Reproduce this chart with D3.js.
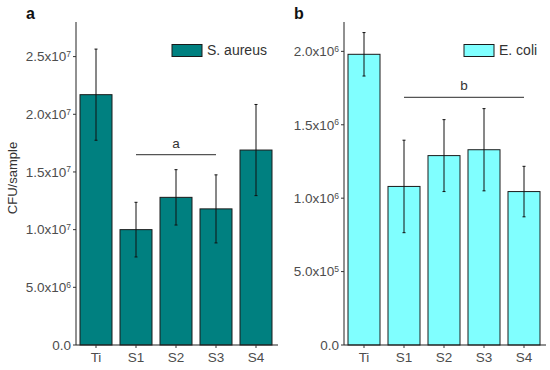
<!DOCTYPE html>
<html>
<head>
<meta charset="utf-8">
<script src="https://cdn.jsdelivr.net/npm/d3@7"></script>
<style>
  body { margin: 0; background: #fff; }
  svg { display: block; font-family: Arial, "Liberation Sans", sans-serif; }
</style>
</head>
<body>
<div id="chart"></div>
<script>
// groups on the x axis
var groups = ["Ti", "S1", "S2", "S3", "S4"];

// panel a: S. aureus
var aureusMean = [2.17e7, 1.0e7, 1.28e7, 1.18e7, 1.69e7];
var aureusSd = [0.395e7, 0.237e7, 0.24e7, 0.295e7, 0.395e7];
var aureusTicks = [0, 5e6, 1e7, 1.5e7, 2e7, 2.5e7];

// panel b: E. coli
var coliMean = [1.98e6, 1.08e6, 1.29e6, 1.33e6, 1.045e6];
var coliSd = [0.148e6, 0.315e6, 0.245e6, 0.28e6, 0.172e6];
var coliTicks = [0, 5e5, 1e6, 1.5e6, 2e6];

// significance brackets: from group, to group, height, letter
var aureusSig = ["S1", "S3", 1.65e7, "a"];
var coliSig = ["S1", "S4", 1.687e6, "b"];

var svg = d3.select("#chart")
    .append("svg")
    .attr("width", 550)
    .attr("height", 370);

function fmt(v) {
    if (v === 0) return {m: "0.0", e: null};
    var e = Math.floor(Math.log10(v) + 1e-9);
    return {m: (v / Math.pow(10, e)).toFixed(1) + "x10", e: e};
}

function drawPanel(opt) {
    var x = d3.scaleBand()
        .domain(groups)
        .range(opt.xRange)
        .paddingInner(0.2)
        .paddingOuter(0.1);
    var y = d3.scaleLinear()
        .domain([0, opt.yMax])
        .range([345, 22]);

    var g = svg.append("g");

    // bars
    g.selectAll(".bar")
        .data(opt.mean)
        .enter()
        .append("rect")
        .attr("x", function(d, i) { return x(groups[i]); })
        .attr("y", function(d) { return y(d); })
        .attr("width", x.bandwidth())
        .attr("height", function(d) { return y(0) - y(d); })
        .attr("fill", opt.color)
        .attr("stroke", "#1a1a1a")
        .attr("stroke-width", 1);

    // error bars
    var eb = g.selectAll(".err")
        .data(opt.mean)
        .enter()
        .append("g")
        .attr("stroke", "#111")
        .attr("stroke-width", 1);
    eb.append("line")
        .attr("x1", function(d, i) { return x(groups[i]) + x.bandwidth() / 2; })
        .attr("x2", function(d, i) { return x(groups[i]) + x.bandwidth() / 2; })
        .attr("y1", function(d, i) { return y(d + opt.sd[i]); })
        .attr("y2", function(d, i) { return y(d - opt.sd[i]); });
    [1, -1].forEach(function(s) {
        eb.append("line")
            .attr("x1", function(d, i) { return x(groups[i]) + x.bandwidth() / 2 - 1.5; })
            .attr("x2", function(d, i) { return x(groups[i]) + x.bandwidth() / 2 + 1.5; })
            .attr("y1", function(d, i) { return y(d + s * opt.sd[i]); })
            .attr("y2", function(d, i) { return y(d + s * opt.sd[i]); });
    });

    // axes
    var x0 = opt.xRange[0];
    g.append("line")
        .attr("x1", x0).attr("x2", x0)
        .attr("y1", 22).attr("y2", 345)
        .attr("stroke", "#222");
    g.append("line")
        .attr("x1", x0).attr("x2", opt.xRange[1] + 2)
        .attr("y1", 345).attr("y2", 345)
        .attr("stroke", "#222");

    // y ticks
    var yt = g.selectAll(".yt")
        .data(opt.ticks)
        .enter()
        .append("g")
        .attr("transform", function(d) { return "translate(0," + y(d) + ")"; });
    yt.append("line")
        .attr("x1", x0 - 3).attr("x2", x0)
        .attr("stroke", "#333");
    var lab = yt.append("text")
        .attr("x", x0 - 5)
        .attr("dy", "0.35em")
        .attr("text-anchor", "end")
        .attr("fill", "#4d4d4d")
        .style("font-size", "13.5px");
    lab.each(function(d) {
        var f = fmt(d);
        var t = d3.select(this);
        if (f.e === null) {
            t.text(f.m);
        } else {
            t.append("tspan").text(f.m);
            t.append("tspan")
                .attr("dy", "-0.5em")
                .style("font-size", "8.5px")
                .text(f.e);
        }
    });

    // x ticks
    var xt = g.selectAll(".xt")
        .data(groups)
        .enter()
        .append("g")
        .attr("transform", function(d) { return "translate(" + (x(d) + x.bandwidth() / 2) + ",345)"; });
    xt.append("line")
        .attr("y1", 0).attr("y2", 3)
        .attr("stroke", "#333");
    xt.append("text")
        .attr("y", 16.5)
        .attr("text-anchor", "middle")
        .attr("fill", "#4d4d4d")
        .style("font-size", "13.5px")
        .text(function(d) { return d; });

    // significance bracket
    var sx1 = x(opt.sig[0]) + x.bandwidth() / 2;
    var sx2 = x(opt.sig[1]) + x.bandwidth() / 2;
    g.append("line")
        .attr("x1", sx1).attr("x2", sx2)
        .attr("y1", y(opt.sig[2])).attr("y2", y(opt.sig[2]))
        .attr("stroke", "#555")
        .attr("stroke-width", 1.2);
    g.append("text")
        .attr("x", (sx1 + sx2) / 2)
        .attr("y", y(opt.sig[2]) - 7)
        .attr("text-anchor", "middle")
        .attr("fill", "#333")
        .style("font-size", "13.5px")
        .text(opt.sig[3]);

    // legend
    g.append("rect")
        .attr("x", opt.legX).attr("y", 44.5)
        .attr("width", 30).attr("height", 12)
        .attr("fill", opt.color)
        .attr("stroke", "#1a1a1a");
    g.append("text")
        .attr("x", opt.legX + 35).attr("y", 55)
        .attr("fill", "#333")
        .style("font-size", "14px")
        .text(opt.name);

    // panel letter
    g.append("text")
        .attr("x", opt.xRange[0] - 50).attr("y", 19)
        .style("font-size", "16px")
        .style("font-weight", "bold")
        .attr("fill", "#111")
        .text(opt.letter);
}

drawPanel({
    xRange: [76, 276], yMax: 2.8e7, mean: aureusMean, sd: aureusSd,
    ticks: aureusTicks, color: "#008080", sig: aureusSig,
    legX: 172, name: "S. aureus", letter: "a"
});
drawPanel({
    xRange: [344, 544], yMax: 2.2e6, mean: coliMean, sd: coliSd,
    ticks: coliTicks, color: "#80ffff", sig: coliSig,
    legX: 464, name: "E. coli", letter: "b"
});

// y axis title
svg.append("text")
    .attr("transform", "translate(17,178) rotate(-90)")
    .attr("text-anchor", "middle")
    .attr("fill", "#333")
    .style("font-size", "13px")
    .text("CFU/sample");
</script>
</body>
</html>
